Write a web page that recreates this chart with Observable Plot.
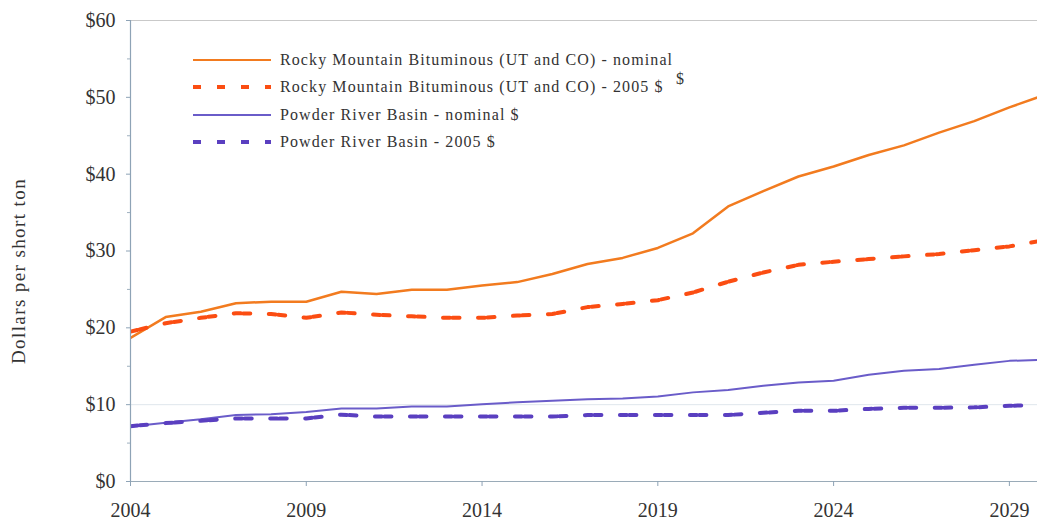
<!DOCTYPE html>
<html>
<head>
<meta charset="utf-8">
<script src="https://cdn.jsdelivr.net/npm/d3@7"></script>
<script src="https://cdn.jsdelivr.net/npm/@observablehq/plot@0.6"></script>
<style>
  html, body { margin: 0; padding: 0; background: #fff; }
  #wrap { position: relative; width: 1037px; height: 523px; overflow: hidden; font-family: "Liberation Serif", "DejaVu Serif", serif; color: #333; }
  #chart { position: absolute; left: 0; top: 0; }
  #ylabel { position: absolute; left: 19px; top: 271px; transform: translate(-50%, -50%) rotate(-90deg); white-space: nowrap; font-size: 19px; letter-spacing: 1.4px; color: #333; }
  #legend { position: absolute; left: 193px; top: 46px; font-size: 16px; letter-spacing: 1.1px; color: #333; }
  .row { display: flex; align-items: center; height: 27.5px; }
  .row svg { margin-right: 9px; }
  #stray { position: absolute; left: 676px; top: 70px; font-size: 16px; color: #333; }
</style>
</head>
<body>
<div id="wrap">
  <div id="chart"></div>
  <div id="ylabel">Dollars per short ton</div>
  <div id="legend"></div>
  <div id="stray">$</div>
</div>
<script>
const years = d3.range(2004, 2031);
const seriesNames = [
  "Rocky Mountain Bituminous (UT and CO) - nominal",
  "Rocky Mountain Bituminous (UT and CO) - 2005 $",
  "Powder River Basin - nominal $",
  "Powder River Basin - 2005 $"
];
const rockyNominal = [18.7, 21.4, 22.1, 23.2, 23.4, 23.4, 24.7, 24.4, 24.95, 24.95, 25.5, 25.95, 27.0, 28.3, 29.1, 30.4, 32.3, 35.8, 37.8, 39.7, 41.0, 42.5, 43.75, 45.4, 46.9, 48.7, 50.3];
const rocky2005 = [19.5, 20.6, 21.3, 21.9, 21.8, 21.3, 22.0, 21.7, 21.5, 21.3, 21.3, 21.6, 21.8, 22.7, 23.1, 23.6, 24.6, 26.0, 27.2, 28.2, 28.6, 28.95, 29.3, 29.6, 30.1, 30.6, 31.4];
const prbNominal = [7.15, 7.66, 8.1, 8.66, 8.75, 9.05, 9.5, 9.5, 9.75, 9.75, 10.05, 10.3, 10.5, 10.7, 10.8, 11.05, 11.6, 11.9, 12.45, 12.9, 13.1, 13.9, 14.4, 14.65, 15.2, 15.7, 15.85];
const prb2005 = [7.2, 7.6, 7.9, 8.2, 8.2, 8.2, 8.7, 8.45, 8.45, 8.45, 8.45, 8.45, 8.45, 8.65, 8.65, 8.65, 8.65, 8.65, 8.95, 9.2, 9.2, 9.45, 9.6, 9.6, 9.65, 9.85, 10.0];
const yTicks = [0, 10, 20, 30, 40, 50, 60];
const yMinorTicks = [5, 15, 25, 35, 45, 55];
const xTicks = [2004, 2009, 2014, 2019, 2024, 2029];

const styles = [
  {color: "#f27b1f", width: 2.5, dash: null},
  {color: "#fb4d12", width: 4, dash: "7,2.5,7,18.5"},
  {color: "#6a5cc9", width: 2, dash: null},
  {color: "#5a3fc0", width: 4, dash: "7,2.5,7,18.5"}
];
const allSeries = [rockyNominal, rocky2005, prbNominal, prb2005];

const lineMarks = allSeries.map((vals, i) => Plot.line(
  years.map((yr, j) => ({year: yr, value: vals[j]})),
  {x: "year", y: "value", stroke: styles[i].color, strokeWidth: styles[i].width,
   strokeDasharray: styles[i].dash, clip: true, strokeLinejoin: "round"}
));

const chart = Plot.plot({
  width: 1037,
  height: 523,
  marginLeft: 130,
  marginRight: 0,
  marginTop: 20,
  marginBottom: 42,
  style: {fontFamily: "'Liberation Serif', serif", fontSize: "20px", color: "#333", background: "#fff", overflow: "visible"},
  x: {domain: [2004, 2029.8]},
  y: {domain: [0, 60]},
  marks: [
    Plot.ruleY([60], {stroke: "#c9c9c9", strokeWidth: 1}),
    Plot.ruleY([10], {stroke: "#dfe6ec", strokeWidth: 1}),
    ...lineMarks,
    Plot.ruleY([0], {stroke: "#9aabb8", strokeWidth: 1.2}),
    Plot.ruleX([2004], {stroke: "#8ea3b6", strokeWidth: 1.2}),
    Plot.axisY({ticks: yTicks, tickFormat: d => "$" + d, tickSize: 4, tickPadding: 11, stroke: "#8ea3b6", label: null, fontSize: 20, style: {letterSpacing: "1.3px"}}),
    Plot.axisY({ticks: yMinorTicks, tickFormat: () => "", tickSize: 3, stroke: "#9fb0bf", label: null}),
    Plot.axisX({ticks: xTicks, tickFormat: d => String(d), tickSize: 5, tickPadding: 16, stroke: "#8ea3b6", label: null, fontSize: 20, style: {letterSpacing: "1.3px"}})
  ]
});
document.getElementById("chart").appendChild(chart);

const legend = document.getElementById("legend");
seriesNames.forEach((name, i) => {
  const row = document.createElement("div");
  row.className = "row";
  const s = styles[i];
  const dash = s.dash ? 'stroke-dasharray="8,16"' : '';
  row.innerHTML = `<svg width="78" height="8"><line x1="0" y1="4" x2="78" y2="4" stroke="${s.color}" stroke-width="${s.dash ? 4 : 2}" ${dash}/></svg><span>${name}</span>`;
  legend.appendChild(row);
});
</script>
</body>
</html>
